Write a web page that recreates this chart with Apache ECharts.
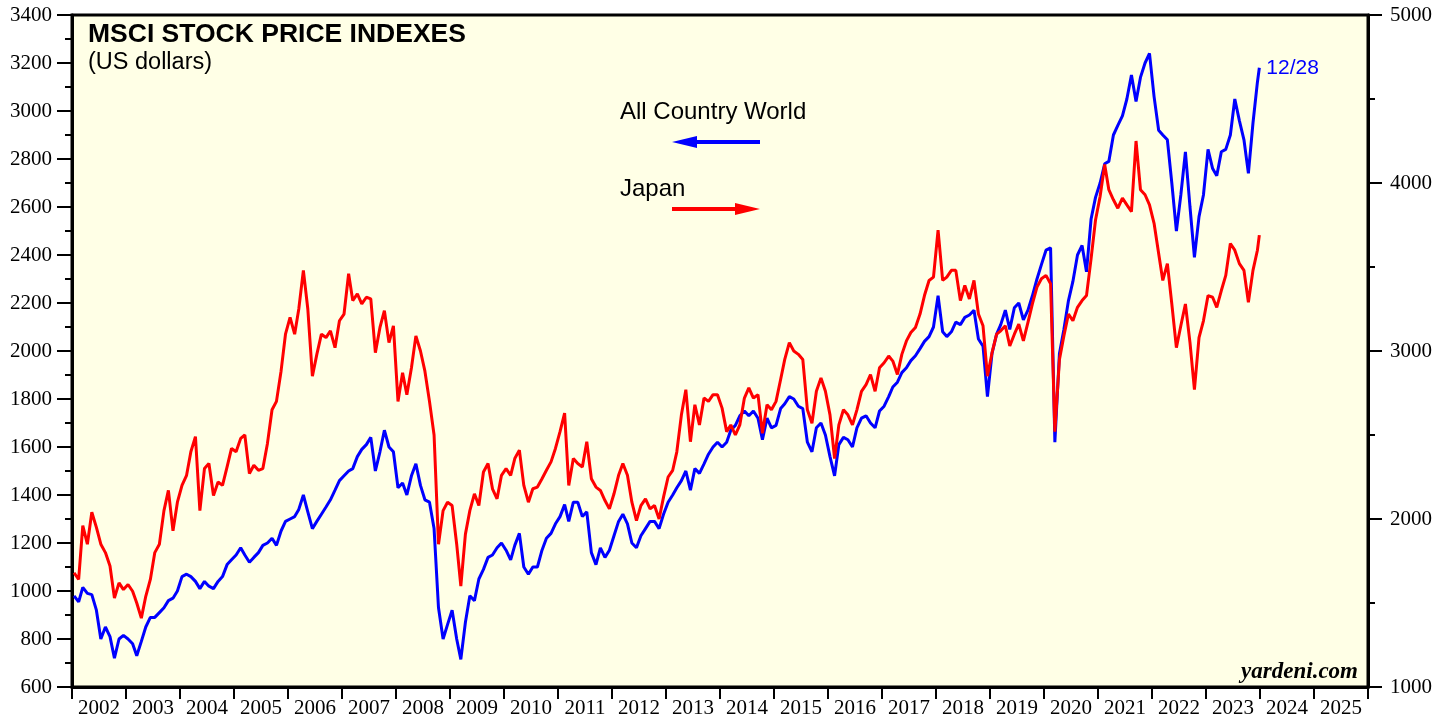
<!DOCTYPE html>
<html>
<head>
<meta charset="utf-8">
<script src="https://cdn.jsdelivr.net/npm/echarts@6/dist/echarts.min.js"></script>
<style>
html,body{margin:0;padding:0;background:#fff;}
#chart{width:1450px;height:719px;}
</style>
</head>
<body>
<div id="chart"></div>
<script>
// Year tick labels (x axis)
const yearLabels = ['2002','2003','2004','2005','2006','2007','2008','2009','2010','2011','2012','2013',
  '2014','2015','2016','2017','2018','2019','2020','2021','2022','2023','2024','2025'];

// Monthly observations (mid-month), Jan 2002 .. Dec 2023, plus last point 12/28/2023
const firstYear = 2002, lastYear = 2023, lastDate = '2023-12-28';

// MSCI All Country World (left axis, US dollars)
const acwi = [
  980, 955, 1015, 990, 985, 920, 800, 850, 810, 720, 800, 815,        // 2002
  800, 780, 730, 790, 850, 890, 890, 910, 930, 960, 970, 1000,        // 2003
  1060, 1070, 1060, 1040, 1010, 1040, 1020, 1010, 1040, 1060, 1110, 1130, // 2004
  1150, 1180, 1150, 1120, 1140, 1160, 1190, 1200, 1220, 1190, 1250, 1290, // 2005
  1300, 1310, 1340, 1400, 1330, 1260, 1290, 1320, 1350, 1380, 1420, 1460, // 2006
  1480, 1500, 1510, 1560, 1590, 1610, 1640, 1500, 1580, 1670, 1600, 1580, // 2007
  1430, 1450, 1400, 1480, 1530, 1440, 1380, 1370, 1260, 930, 800, 860,   // 2008
  920, 800, 715, 870, 980, 960, 1050, 1090, 1140, 1150, 1180, 1200,      // 2009
  1170, 1130, 1190, 1240, 1100, 1070, 1100, 1100, 1170, 1220, 1240, 1280, // 2010
  1310, 1360, 1290, 1370, 1370, 1310, 1330, 1160, 1110, 1180, 1140, 1170, // 2011
  1230, 1290, 1320, 1280, 1200, 1180, 1230, 1260, 1290, 1290, 1260, 1320, // 2012
  1370, 1400, 1430, 1460, 1500, 1420, 1510, 1490, 1530, 1570, 1600, 1620, // 2013
  1600, 1620, 1670, 1690, 1730, 1750, 1730, 1750, 1720, 1630, 1720, 1680, // 2014
  1690, 1760, 1780, 1810, 1800, 1770, 1760, 1620, 1580, 1680, 1700, 1650, // 2015
  1560, 1480, 1610, 1640, 1630, 1600, 1680, 1720, 1730, 1700, 1680, 1750, // 2016
  1770, 1810, 1850, 1870, 1910, 1930, 1960, 1980, 2010, 2040, 2060, 2100, // 2017
  2230, 2080, 2060, 2080, 2120, 2110, 2140, 2150, 2170, 2050, 2020, 1810, // 2018
  1990, 2070, 2110, 2170, 2090, 2180, 2200, 2130, 2170, 2230, 2300, 2360, // 2019
  2420, 2430, 1620, 1990, 2090, 2210, 2290, 2400, 2440, 2330, 2550, 2640, // 2020
  2700, 2780, 2790, 2900, 2940, 2980, 3050, 3150, 3040, 3140, 3200, 3240, // 2021
  3060, 2920, 2900, 2880, 2700, 2500, 2650, 2830, 2600, 2390, 2560, 2650, // 2022
  2840, 2760, 2730, 2830, 2840, 2900, 3050, 2960, 2880, 2740, 2950, 3120, // 2023
  3180                                                                   // 12/28
];

// MSCI Japan (right axis, US dollars)
const japan = [
  1680, 1640, 1960, 1850, 2040, 1950, 1850, 1800, 1720, 1530, 1620, 1580, // 2002
  1610, 1570, 1500, 1410, 1540, 1640, 1800, 1850, 2050, 2170, 1930, 2100, // 2003
  2200, 2260, 2400, 2490, 2050, 2300, 2330, 2140, 2220, 2200, 2310, 2420, // 2004
  2400, 2480, 2500, 2270, 2320, 2290, 2300, 2450, 2650, 2700, 2880, 3100, // 2005
  3200, 3100, 3250, 3480, 3250, 2850, 2980, 3100, 3080, 3120, 3020, 3180, // 2006
  3220, 3460, 3300, 3340, 3280, 3320, 3310, 2990, 3140, 3240, 3050, 3150, // 2007
  2700, 2870, 2740, 2900, 3090, 3000, 2880, 2700, 2500, 1850, 2050, 2100, // 2008
  2080, 1850, 1600, 1910, 2050, 2150, 2080, 2280, 2330, 2180, 2120, 2260, // 2009
  2300, 2260, 2360, 2410, 2200, 2100, 2180, 2190, 2240, 2290, 2340, 2420, // 2010
  2520, 2630, 2200, 2360, 2330, 2310, 2460, 2240, 2190, 2170, 2110, 2060, // 2011
  2150, 2260, 2330, 2260, 2100, 1990, 2080, 2120, 2060, 2080, 2000, 2130, // 2012
  2250, 2290, 2400, 2620, 2770, 2460, 2680, 2560, 2720, 2700, 2740, 2740, // 2013
  2660, 2520, 2560, 2500, 2560, 2720, 2780, 2720, 2740, 2510, 2680, 2650, // 2014
  2700, 2830, 2950, 3050, 3000, 2980, 2950, 2650, 2570, 2760, 2840, 2760, // 2015
  2620, 2360, 2560, 2650, 2620, 2560, 2650, 2760, 2800, 2860, 2760, 2900, // 2016
  2930, 2970, 2940, 2860, 2980, 3060, 3110, 3140, 3220, 3330, 3420, 3440, // 2017
  3720, 3420, 3440, 3480, 3480, 3300, 3390, 3310, 3420, 3220, 3150, 2850, // 2018
  2990, 3100, 3120, 3150, 3030, 3100, 3160, 3060, 3170, 3280, 3380, 3430, // 2019
  3450, 3400, 2520, 2950, 3090, 3220, 3180, 3260, 3300, 3330, 3550, 3780, // 2020
  3920, 4110, 3960, 3900, 3850, 3910, 3870, 3830, 4250, 3960, 3930, 3870, // 2021
  3760, 3580, 3420, 3520, 3280, 3020, 3150, 3280, 3050, 2770, 3080, 3180, // 2022
  3330, 3320, 3260, 3360, 3450, 3640, 3600, 3520, 3480, 3290, 3480, 3600, // 2023
  3690                                                                   // 12/28
];

// observation dates
const dates = [];
for (let y = firstYear; y <= lastYear; y++) {
  for (let m = 1; m <= 12; m++) dates.push(y + '-' + String(m).padStart(2, '0') + '-15');
}
dates.push(lastDate);

const chart = echarts.init(document.getElementById('chart'), null, {renderer: 'canvas'});
const serif = "'Liberation Serif', 'Times New Roman', serif";
const sans = "'Liberation Sans', Arial, sans-serif";
const plain = v => String(v);

const option = {
  animation: false,
  backgroundColor: '#ffffff',
  grid: {
    left: 72, right: 82, top: 15, bottom: 32,
    show: true, backgroundColor: '#FFFFE6', borderColor: '#000', borderWidth: 3
  },
  xAxis: [
    { type: 'time', min: '2002-01-01', max: '2026-01-01', show: false },
    {
      type: 'category', data: yearLabels, position: 'bottom', boundaryGap: true,
      axisLine: { show: true, lineStyle: { color: '#000', width: 3 } },
      axisTick: { show: true, interval: 0, length: 12, lineStyle: { color: '#000', width: 2 } },
      axisLabel: { interval: 0, color: '#000', fontFamily: serif, fontSize: 21, margin: 11 },
      splitLine: { show: false }
    }
  ],
  yAxis: [
    {
      type: 'value', min: 600, max: 3400, interval: 200, position: 'left',
      axisLine: { show: true, lineStyle: { color: '#000', width: 3 } },
      axisTick: { show: true, length: 15, lineStyle: { color: '#000', width: 2 } },
      minorTick: { show: true, splitNumber: 2, length: 7, lineStyle: { color: '#000', width: 2 } },
      axisLabel: { color: '#000', fontFamily: serif, fontSize: 21, margin: 20, formatter: plain },
      splitLine: { show: false }, minorSplitLine: { show: false }
    },
    {
      type: 'value', min: 1000, max: 5000, interval: 1000, position: 'right',
      axisLine: { show: true, lineStyle: { color: '#000', width: 3 } },
      axisTick: { show: true, length: 14, lineStyle: { color: '#000', width: 2 } },
      minorTick: { show: true, splitNumber: 2, length: 7, lineStyle: { color: '#000', width: 2 } },
      axisLabel: { color: '#000', fontFamily: serif, fontSize: 21, margin: 22, formatter: plain },
      splitLine: { show: false }, minorSplitLine: { show: false }
    }
  ],
  series: [
    {
      name: 'All Country World', type: 'line', xAxisIndex: 0, yAxisIndex: 0,
      data: dates.map((d, i) => [d, acwi[i]]),
      showSymbol: false, symbol: 'none',
      lineStyle: { color: '#0000FF', width: 3 },
      endLabel: { show: true, formatter: '12/28', color: '#0000FF', fontFamily: sans, fontSize: 21, distance: 7 },
      z: 2
    },
    {
      name: 'Japan', type: 'line', xAxisIndex: 0, yAxisIndex: 1,
      data: dates.map((d, i) => [d, japan[i]]),
      showSymbol: false, symbol: 'none',
      lineStyle: { color: '#FF0000', width: 3 },
      z: 3
    }
  ],
  graphic: [
    { type: 'text', z: 10, style: { x: 88, y: 35, text: 'MSCI STOCK PRICE INDEXES', fill: '#000',
      font: "bold 26.5px " + sans, verticalAlign: 'middle', align: 'left' } },
    { type: 'text', z: 10, style: { x: 88, y: 63, text: '(US dollars)', fill: '#000',
      font: "23.5px " + sans, verticalAlign: 'middle', align: 'left' } },
    { type: 'text', z: 10, style: { x: 620, y: 112, text: 'All Country World', fill: '#000',
      font: "24px " + sans, verticalAlign: 'middle', align: 'left' } },
    { type: 'text', z: 10, style: { x: 620, y: 189, text: 'Japan', fill: '#000',
      font: "24px " + sans, verticalAlign: 'middle', align: 'left' } },
    // blue arrow pointing left
    { type: 'line', z: 10, shape: { x1: 692, y1: 142, x2: 760, y2: 142 }, style: { stroke: '#0000FF', lineWidth: 4 } },
    { type: 'polygon', z: 10, shape: { points: [[672, 142], [697, 136], [697, 148]] }, style: { fill: '#0000FF' } },
    // red arrow pointing right
    { type: 'line', z: 10, shape: { x1: 672, y1: 209, x2: 740, y2: 209 }, style: { stroke: '#FF0000', lineWidth: 4 } },
    { type: 'polygon', z: 10, shape: { points: [[760, 209], [735, 203], [735, 215]] }, style: { fill: '#FF0000' } },
    { type: 'text', z: 10, style: { x: 1358, y: 672, text: 'yardeni.com', fill: '#000',
      font: "italic bold 23px " + serif, verticalAlign: 'middle', align: 'right' } }
  ]
};
chart.setOption(option);
</script>
</body>
</html>
